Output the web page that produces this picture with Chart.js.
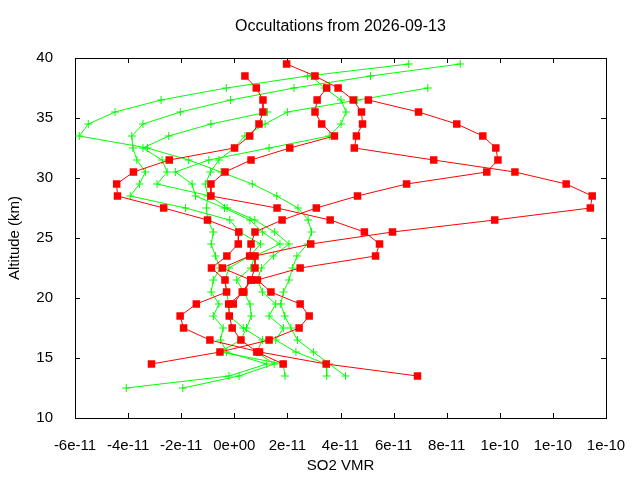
<!DOCTYPE html>
<html>
<head>
<meta charset="utf-8">
<script src="https://cdn.jsdelivr.net/npm/chart.js@4"></script>
<style>
  html, body { margin: 0; padding: 0; background: #fff; }
  #wrap { width: 640px; height: 480px; }
</style>
</head>
<body>
<div id="wrap"><canvas id="occChart" width="640" height="480"></canvas></div>
<script>
// Occultation profiles, SO2 VMR in units of 1e-11, one value per altitude level
const altitudes = [39.5, 38.5, 37.5, 36.5, 35.5, 34.5, 33.5, 32.5, 31.5, 30.5,
                   29.5, 28.5, 27.5, 26.5, 25.5, 24.5, 23.5, 22.5, 21.5, 20.5,
                   19.5, 18.5, 17.5, 16.5, 15.5, 14.5, 13.5, 12.5];

const red1 = [1.97, 3.04, 3.91, 4.48, 4.79, 4.83, 4.60, 4.52, 7.51, 10.57, 12.50, 13.48, 13.41, 9.81,
              5.96, 2.88, 0.78, 0.78, 0.62, 0.36, -0.21, -0.19, -0.08, 0.25, 0.85, 1.84, null, null];
const red2 = [null, 0.40, 0.83, 1.08, 1.08, 0.93, 0.58, 0.01, -2.45, -3.80, -4.43, -4.40, -2.66, -1.01,
              0.17, 0.15, -0.28, -0.86, -0.35, -0.29, -1.43, -2.04, -1.91, -0.92, 0.95, 3.46, 6.90, null];
const red3 = [null, null, 3.48, 3.12, 3.04, 3.29, 3.77, 2.09, 0.63, -0.35, -0.88, -0.88, 1.61, 3.61,
              4.90, 5.47, 5.32, 2.48, 0.87, 1.38, 2.48, 2.82, 2.44, 1.31, -0.54, -3.12, null, null];
const red4 = [null, null, null, 5.05, 6.94, 8.38, 9.36, 9.85, 9.93, 9.51, 6.49, 4.64, 3.09, 1.80,
              0.78, 0.63, 0.58, -0.45, 0.62, 0.30, -0.04, null, null, null, null, null, null, null];

const green1 = [6.57, 2.76, -0.30, -2.76, -4.49, -5.50, -5.84, -3.27, -1.72, -0.50, 0.68, 1.60, 2.40, 2.78,
                2.91, 2.76, 2.36, 2.19, 2.06, 1.85, 1.75, 1.90, 2.13, 2.38, 2.98, 3.58, 4.19, null];
const green2 = [8.51, 5.13, 2.25, -0.14, -2.03, -3.44, -3.86, -3.82, -3.67, -3.35, -3.57, -3.92, -1.84, -0.17,
                0.20, 0.99, 0.58, -0.20, -0.35, -0.29, -0.21, -0.19, 0.34, 1.06, 0.85, 1.50, 0.18, -1.94];
const green3 = [null, null, 7.29, 4.65, 2.00, 1.16, 0.40, 0.00, -0.58, -0.90, -1.09, -1.00, -1.05, -1.00,
                -0.79, -0.87, -0.71, -0.53, -0.79, -0.87, -0.58, -0.79, -0.42, -0.52, -0.29, 1.22, -0.20, -4.07];
const green4 = [null, 2.90, 3.40, 4.02, 4.21, 4.02, 3.58, 1.31, -0.96, -2.22, -1.59, -1.46, -0.37, 0.59,
                1.06, 1.72, 0.78, 0.62, 0.09, 0.36, 0.59, 0.64, 0.46, 0.25, -0.54, 1.84, 1.91, null];
const green5 = [null, null, null, null, 1.25, -0.88, -2.47, -3.44, -2.72, -2.53, -2.91, -0.90, -0.27, 0.77,
                1.52, 2.06, 1.47, 1.02, 0.87, 1.06, 1.56, 1.31, 1.85, 1.56, 2.32, 3.46, 3.48, null];

const xTickLabels = ["-6e-11", "-4e-11", "-2e-11", "0e+00", "2e-11", "4e-11",
                     "6e-11", "8e-11", "1e-10", "1e-10", "1e-10"];

const FONT = "'Liberation Sans', Arial, sans-serif";

function toPoints(values) {
    const pts = [];
    values.forEach((v, i) => {
        if (v !== null) pts.push({ x: v, y: altitudes[i] });
    });
    return pts;
}

// red drawn on top of green (lower order = drawn last)
function redSet(name, values) {
    return {
        label: name,
        data: toPoints(values),
        showLine: true,
        borderColor: "#ff0000",
        backgroundColor: "#ff0000",
        borderWidth: 1,
        pointStyle: "rect",
        pointRadius: 5.3,
        pointBorderWidth: 0,
        pointBackgroundColor: "#ff0000",
        order: 1
    };
}

function greenSet(name, values) {
    return {
        label: name,
        data: toPoints(values),
        showLine: true,
        borderColor: "#00ff00",
        backgroundColor: "#00ff00",
        borderWidth: 1,
        pointStyle: "cross",
        pointRadius: 4,
        pointBorderWidth: 1,
        pointBorderColor: "#00ff00",
        order: 2
    };
}

// gnuplot style border with inward ticks on all four sides
const frame = {
    id: "frame",
    beforeDatasetsDraw(chart) {
        const { ctx, chartArea: a, scales: { x, y } } = chart;
        const len = 5;
        ctx.save();
        ctx.strokeStyle = "#000";
        ctx.lineWidth = 1;
        ctx.beginPath();
        x.ticks.forEach(t => {
            const px = Math.round(x.getPixelForValue(t.value)) + 0.5;
            ctx.moveTo(px, a.bottom);
            ctx.lineTo(px, a.bottom - len);
            ctx.moveTo(px, a.top);
            ctx.lineTo(px, a.top + len);
        });
        y.ticks.forEach(t => {
            const py = Math.round(y.getPixelForValue(t.value)) + 0.5;
            ctx.moveTo(a.left, py);
            ctx.lineTo(a.left + len, py);
            ctx.moveTo(a.right, py);
            ctx.lineTo(a.right - len, py);
        });
        ctx.stroke();
        ctx.strokeRect(Math.round(a.left) + 0.5, Math.round(a.top) + 0.5,
                       Math.round(a.right - a.left), Math.round(a.bottom - a.top));
        ctx.restore();
    }
};

new Chart(document.getElementById("occChart"), {
    type: "scatter",
    data: {
        datasets: [
            redSet("red 1", red1),
            redSet("red 2", red2),
            redSet("red 3", red3),
            redSet("red 4", red4),
            greenSet("green 1", green1),
            greenSet("green 2", green2),
            greenSet("green 3", green3),
            greenSet("green 4", green4),
            greenSet("green 5", green5)
        ]
    },
    options: {
        responsive: false,
        animation: false,
        devicePixelRatio: 1,
        layout: { padding: { left: 0, right: 34, top: 0, bottom: 0 } },
        plugins: {
            legend: { display: false },
            tooltip: { enabled: false },
            title: {
                display: true,
                fullSize: false,
                text: "Occultations from 2026-09-13",
                color: "#000",
                font: { family: FONT, size: 16, weight: "normal" },
                padding: { top: 17, bottom: 21.8 }
            }
        },
        scales: {
            x: {
                type: "linear",
                min: -6,
                max: 14,
                grid: { display: false },
                border: { display: false },
                ticks: {
                    stepSize: 2,
                    color: "#000",
                    padding: 11,
                    maxRotation: 0,
                    font: { family: FONT, size: 15 },
                    callback: (value, index) => xTickLabels[index]
                },
                title: {
                    display: true,
                    text: "SO2 VMR",
                    color: "#000",
                    font: { family: FONT, size: 15 },
                    padding: { top: 4, bottom: 5 }
                },
                afterFit(scale) { scale.height = 62; }
            },
            y: {
                type: "linear",
                min: 10,
                max: 40,
                grid: { display: false },
                border: { display: false },
                ticks: {
                    stepSize: 5,
                    color: "#000",
                    padding: 14,
                    font: { family: FONT, size: 15 }
                },
                title: {
                    display: true,
                    text: "Altitude (km)",
                    color: "#000",
                    font: { family: FONT, size: 15 },
                    padding: { top: 6, bottom: 4 }
                },
                afterFit(scale) { scale.width = 75; }
            }
        }
    },
    plugins: [frame]
});
</script>
</body>
</html>
